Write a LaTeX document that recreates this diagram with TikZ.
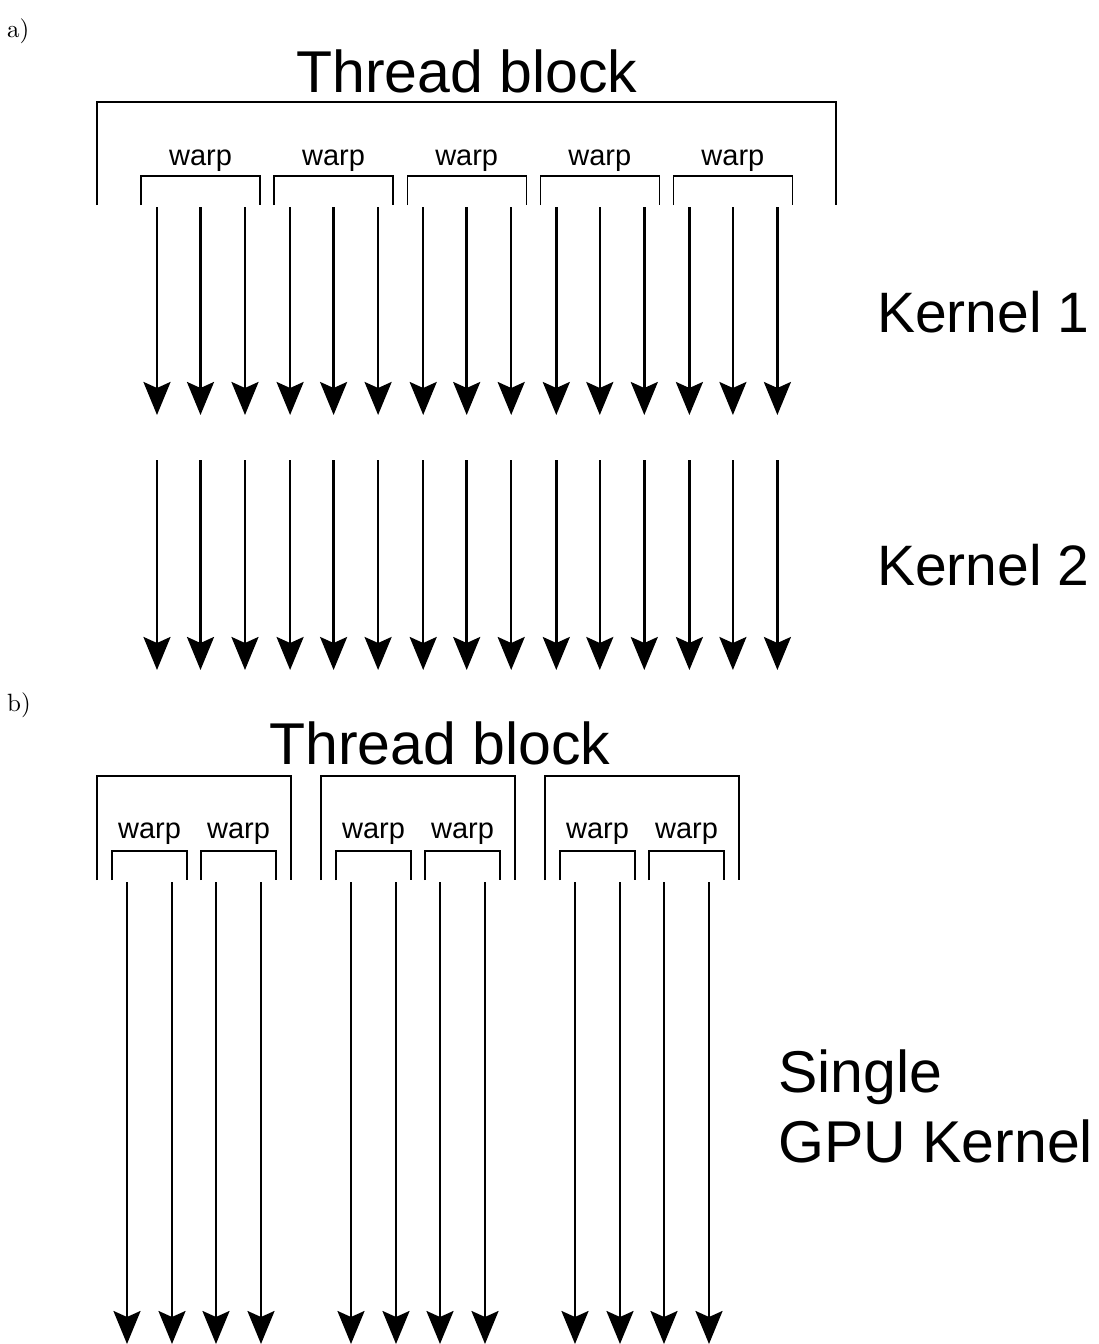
\documentclass[tikz,border=0pt]{standalone}
\usepackage{fontspec}
\newfontfamily\arial{Liberation Sans}
\usetikzlibrary{arrows.meta}
\begin{document}
\begin{tikzpicture}[x=1pt,y=-1pt,
  thr/.style={line width=2.5pt,-{Stealth[length=33pt,width=27pt,inset=6pt]}},
  brk/.style={line width=1.3pt,black},
  wlabel/.style={font=\arial\fontsize{29}{29}\selectfont,anchor=base,inner sep=0pt},
  big/.style={font=\arial\fontsize{59}{59}\selectfont,inner sep=0pt},
  kern/.style={font=\arial\fontsize{57}{57}\selectfont,inner sep=0pt,anchor=base west},
  part/.style={anchor=base west,inner sep=0pt}]
\useasboundingbox (0,0) rectangle (1098,1344);
% ---------- part a ----------
\node[part] (pa) at (7,37) {\scalebox{2.5}{a)}};
\node[big,anchor=base] (tba) at (467,92) {Thread block};
\draw[brk] (97,205) |- (836,102) -- (836,205);
\foreach \w in {0,...,4}{
  \pgfmathsetmacro\L{141+133.1*\w}
  \draw[brk] (\L,205) |- (\L+119,176) -- (\L+119,205);
  \node[wlabel] (wla\w) at (\L+59.5,165) {warp};
  \foreach \k/\dx in {0/16,1/59.5,2/104}{
    \coordinate (s1-\w-\k) at (\L+\dx,207);
    \coordinate (e1-\w-\k) at (\L+\dx,415);
    \coordinate (s2-\w-\k) at (\L+\dx,460);
    \coordinate (e2-\w-\k) at (\L+\dx,670);
    \draw[thr] (s1-\w-\k) -- (e1-\w-\k);
    \draw[thr] (s2-\w-\k) -- (e2-\w-\k);
  }
}
\node[kern] (k1) at (877,332) {Kernel 1};
\node[kern] (k2) at (877,585) {Kernel 2};
% ---------- part b ----------
\node[part] (pb) at (7,711) {\scalebox{2.5}{b)}};
\node[big,anchor=base] (tbb) at (440,764) {Thread block};
\foreach \j in {0,1,2}{
  \pgfmathsetmacro\B{97+224*\j}
  \draw[brk] (\B,880) |- (\B+194,776) -- (\B+194,880);
  \foreach \m/\off in {0/15,1/104}{
    \pgfmathsetmacro\W{\B+\off}
    \draw[brk] (\W,880) |- (\W+75,851) -- (\W+75,880);
    \node[wlabel] (wlb\j\m) at (\W+37.5,838) {warp};
    \foreach \k/\dx in {0/15,1/60}{
      \coordinate (sb-\j-\m-\k) at (\W+\dx,882);
      \coordinate (eb-\j-\m-\k) at (\W+\dx,1344);
      \draw[thr] (sb-\j-\m-\k) -- (eb-\j-\m-\k);
    }
  }
}
\node[big,anchor=base west] (sg) at (778,1092) {Single};
\node[big,anchor=base west] (gk) at (778,1162) {GPU Kernel};
\end{tikzpicture}
\end{document}
